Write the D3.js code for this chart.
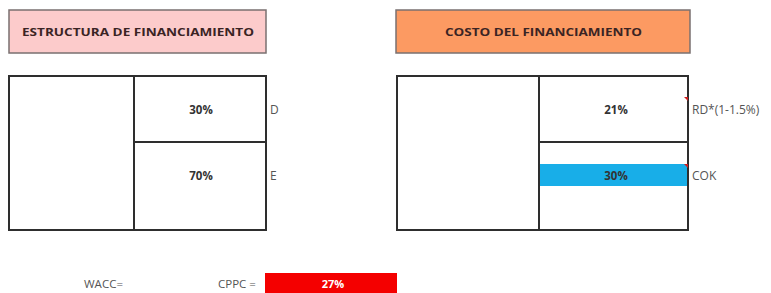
<!DOCTYPE html>
<html>
<head>
<meta charset="utf-8">
<script src="https://cdn.jsdelivr.net/npm/d3@7"></script>
<style>
  body { margin: 0; background: #fff; }
  text { font-family: "Open Sans", "Liberation Sans", sans-serif; }
</style>
</head>
<body>
<div class="container"></div>
<script>
// data
var titles = ['ESTRUCTURA DE FINANCIAMIENTO', 'COSTO DEL FINANCIAMIENTO'];
var rows = ['D', 'E'];
var weights = [0.30, 0.70];
var costs = [0.21, 0.30];
var costLabels = ['RD*(1-1.5%)', 'COK'];
var wacc = 0.27;

const WIDTH = 771;
const HEIGHT = 293;
const TOP = 76;
const BOTTOM = 230;
const DIVIDER = 142;

var fmt = d3.format('.0%');

var svg = d3.select('.container').append('svg')
    .attr('width', WIDTH)
    .attr('height', HEIGHT);

// row top / row middle for each row
var rowTop = d3.scaleOrdinal().domain(rows).range([TOP, DIVIDER]);
var rowMid = d3.scaleOrdinal().domain(rows).range([111, 177]);

var panels = [
  {x0: 9, x1: 134, x2: 266, hx: 9, hw: 257, fill: '#fccbcb', title: titles[0],
   tx0: 22, tx1: 254, vx: 201, values: weights, side: rows},
  {x0: 397, x1: 539, x2: 688, hx: 396, hw: 294, fill: '#fc9a62', title: titles[1],
   tx0: 445, tx1: 642, vx: 616, values: costs, side: costLabels}
];

var drawPanel = function (p, i) {
  let g = svg.append('g');

  // header box
  g.append('rect')
      .attr('x', p.hx).attr('y', 10)
      .attr('width', p.hw).attr('height', 43)
      .attr('fill', p.fill)
      .attr('stroke', '#7a7070').attr('stroke-width', 1.5);

  g.append('text')
      .attr('x', p.tx0).attr('y', 36)
      .attr('textLength', p.tx1 - p.tx0)
      .attr('lengthAdjust', 'spacingAndGlyphs')
      .attr('font-size', 11).attr('font-weight', 'bold')
      .attr('fill', '#3a2424')
      .text(p.title);

  // highlight on the COK cell
  if (i === 1) {
    g.append('rect')
        .attr('x', p.x1).attr('y', 164)
        .attr('width', p.x2 - p.x1).attr('height', 22)
        .attr('fill', '#18aee8');
  }

  // table frame
  g.append('rect')
      .attr('x', p.x0).attr('y', TOP)
      .attr('width', p.x2 - p.x0).attr('height', BOTTOM - TOP)
      .attr('fill', 'none')
      .attr('stroke', '#2e2e2e').attr('stroke-width', 2);

  g.append('line')
      .attr('x1', p.x1).attr('x2', p.x1)
      .attr('y1', TOP).attr('y2', BOTTOM)
      .attr('stroke', '#2e2e2e').attr('stroke-width', 2);

  g.append('line')
      .attr('x1', p.x1).attr('x2', p.x2)
      .attr('y1', rowTop('E')).attr('y2', rowTop('E'))
      .attr('stroke', '#2e2e2e').attr('stroke-width', 2);

  g.selectAll('.val')
      .data(p.values)
      .enter().append('text')
      .attr('x', p.vx)
      .attr('y', (d, j) => rowMid(rows[j]))
      .attr('text-anchor', 'middle')
      .attr('dominant-baseline', 'middle')
      .attr('font-size', 11.5).attr('font-weight', 'bold')
      .attr('fill', '#333')
      .text(fmt);

  g.selectAll('.side')
      .data(p.side)
      .enter().append('text')
      .attr('x', p.x2 + 4)
      .attr('y', (d, j) => rowMid(rows[j]))
      .attr('dominant-baseline', 'middle')
      .attr('font-size', 12)
      .attr('fill', '#555')
      .text(d => d);

  if (i === 1) {
    // comment markers
    g.selectAll('.mark')
        .data(rows)
        .enter().append('path')
        .attr('d', (d, j) => {
          let y = j === 0 ? 97 : 164;
          return `M${p.x2 - 4},${y} L${p.x2},${y} L${p.x2},${y + 4} Z`;
        })
        .attr('fill', '#cc2020');
  }
};

panels.forEach(drawPanel);

// bottom WACC row
svg.append('text')
    .attr('x', 84).attr('y', 288)
    .attr('font-size', 11.5).attr('fill', '#555')
    .text('WACC=');

svg.append('text')
    .attr('x', 218).attr('y', 288)
    .attr('font-size', 11.5).attr('fill', '#555')
    .text('CPPC =');

svg.append('rect')
    .attr('x', 265).attr('y', 273)
    .attr('width', 132).attr('height', 20)
    .attr('fill', '#f40000');

svg.append('text')
    .attr('x', 333).attr('y', 288)
    .attr('text-anchor', 'middle')
    .attr('font-size', 11).attr('font-weight', 'bold')
    .attr('fill', '#fff')
    .text(fmt(wacc));
</script>
</body>
</html>
